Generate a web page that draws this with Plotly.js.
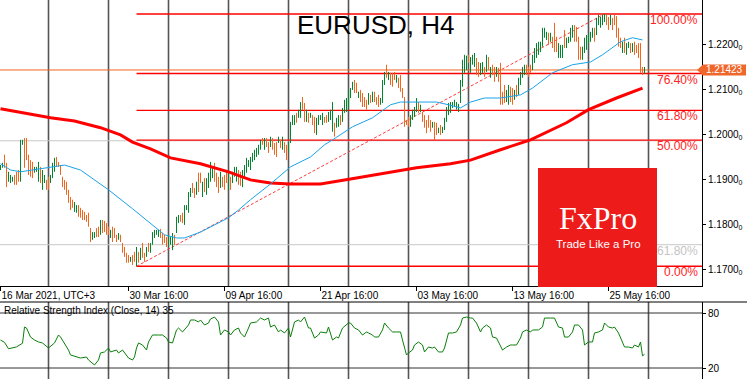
<!DOCTYPE html>
<html><head><meta charset="utf-8">
<script src="https://cdn.plot.ly/plotly-3.0.1.min.js"></script>
<style>html,body{margin:0;padding:0;background:#fff;overflow:hidden}#chart{width:747px;height:379px}</style>
</head><body><div id="chart"></div>
<script>
// ---- data (EURUSD H4, bar index 0 = 16 Mar 2021 00:00) ----
const dateTickIdx = [0, 64, 112, 160, 208, 256, 304];
const dateTickText = ['16 Mar 2021, UTC+3', '30 Mar 16:00', '09 Apr 16:00', '21 Apr 16:00', '03 May 16:00', '13 May 16:00', '25 May 16:00'];
const priceTicks = [1.17, 1.18, 1.19, 1.20, 1.21, 1.22];
const rsiTicks = [20, 80];

const barOpen = [
1.1923,1.1927,1.1950,1.1930,1.1897,1.1895,1.1897,1.1905,1.1912,1.1916,
1.1898,1.1979,1.1985,1.1985,1.1948,1.1938,1.1934,1.1917,1.1918,1.1898,
1.1923,1.1880,1.1894,1.1895,1.1901,1.1894,1.1906,1.1920,1.1945,1.1936,
1.1928,1.1902,1.1895,1.1890,1.1872,1.1856,1.1851,1.1831,1.1828,1.1838,
1.1833,1.1828,1.1824,1.1818,1.1820,1.1787,1.1767,1.1772,1.1788,1.1790,
1.1780,1.1805,1.1803,1.1798,1.1791,1.1772,1.1790,1.1788,1.1773,1.1767,
1.1774,1.1755,1.1746,1.1733,1.1728,1.1718,1.1727,1.1734,1.1712,1.1735,
1.1723,1.1754,1.1732,1.1730,1.1754,1.1740,1.1757,1.1772,1.1778,1.1774,
1.1786,1.1777,1.1773,1.1768,1.1752,1.1757,1.1746,1.1773,1.1784,1.1805,
1.1818,1.1821,1.1803,1.1833,1.1830,1.1863,1.1888,1.1876,1.1868,1.1909,
1.1911,1.1864,1.1898,1.1869,1.1884,1.1898,1.1905,1.1931,1.1910,1.1901,
1.1884,1.1902,1.1905,1.1916,1.1880,1.1902,1.1894,1.1908,1.1898,1.1916,
1.1912,1.1886,1.1905,1.1917,1.1929,1.1923,1.1940,1.1945,1.1951,1.1956,
1.1968,1.1988,1.1968,1.1988,1.1979,1.1974,1.1988,1.1976,1.1978,1.1982,
1.1984,1.1968,1.1979,1.1972,1.1961,1.1983,1.2023,1.2022,1.2044,1.2038,
1.2040,1.2078,1.2064,1.2030,1.2044,1.2038,1.2039,1.2034,1.2002,1.2023,
1.2033,1.2023,1.2036,1.2040,1.2030,1.2034,1.2010,1.2021,1.2017,1.2019,
1.2039,1.2030,1.2050,1.2052,1.2064,1.2083,1.2100,1.2116,1.2111,1.2082,
1.2095,1.2087,1.2079,1.2073,1.2068,1.2085,1.2074,1.2091,1.2080,1.2084,
1.2067,1.2073,1.2112,1.2150,1.2123,1.2133,1.2132,1.2136,1.2116,1.2122,
1.2127,1.2099,1.2078,1.2029,1.2035,1.2019,1.2034,1.2041,1.2052,1.2068,
1.2051,1.2046,1.2039,1.2028,1.2038,1.2028,1.2016,1.2023,1.2022,1.2004,
1.2017,1.2004,1.2012,1.2030,1.2045,1.2050,1.2060,1.2062,1.2057,1.2052,
1.2073,1.2110,1.2140,1.2146,1.2173,1.2140,1.2157,1.2152,1.2165,1.2156,
1.2134,1.2139,1.2146,1.2142,1.2168,1.2128,1.2151,1.2145,1.2130,1.2143,
1.2150,1.2090,1.2104,1.2074,1.2069,1.2101,1.2098,1.2079,1.2106,1.2091,
1.2112,1.2128,1.2134,1.2151,1.2146,1.2151,1.2145,1.2161,1.2172,1.2179,
1.2185,1.2198,1.2217,1.2211,1.2222,1.2207,1.2213,1.2240,1.2212,1.2172,
1.2172,1.2173,1.2227,1.2194,1.2204,1.2208,1.2217,1.2238,1.2234,1.2211,
1.2190,1.2168,1.2183,1.2190,1.2205,1.2208,1.2216,1.2232,1.2224,1.2245,
1.2239,1.2245,1.2252,1.2262,1.2257,1.2245,1.2255,1.2262,1.2258,1.2232,
1.2211,1.2183,1.2210,1.2179,1.2193,1.2199,1.2185,1.2202,1.2195,1.2198,
1.2196,1.2146,1.2137];
const barHigh = [
1.1931,1.1936,1.1954,1.1936,1.1916,1.1909,1.1905,1.1909,1.1916,1.1920,
1.1987,1.1987,1.1991,1.1991,1.1954,1.1942,1.1938,1.1927,1.1927,1.1938,
1.1927,1.1920,1.1909,1.1898,1.1905,1.1909,1.1936,1.1947,1.1949,1.1938,
1.1931,1.1905,1.1898,1.1894,1.1876,1.1860,1.1854,1.1849,1.1842,1.1842,
1.1836,1.1831,1.1827,1.1820,1.1825,1.1791,1.1782,1.1782,1.1791,1.1794,
1.1809,1.1809,1.1807,1.1802,1.1794,1.1787,1.1794,1.1791,1.1776,1.1780,
1.1776,1.1758,1.1749,1.1736,1.1731,1.1727,1.1731,1.1738,1.1749,1.1738,
1.1747,1.1758,1.1736,1.1749,1.1758,1.1758,1.1782,1.1787,1.1787,1.1787,
1.1789,1.1780,1.1776,1.1771,1.1776,1.1771,1.1780,1.1776,1.1816,1.1820,
1.1820,1.1825,1.1842,1.1842,1.1871,1.1880,1.1891,1.1880,1.1894,1.1914,
1.1914,1.1894,1.1902,1.1902,1.1914,1.1938,1.1925,1.1936,1.1914,1.1905,
1.1916,1.1905,1.1909,1.1920,1.1916,1.1905,1.1916,1.1927,1.1927,1.1920,
1.1916,1.1920,1.1931,1.1947,1.1942,1.1949,1.1958,1.1965,1.1969,1.1976,
1.1987,1.1991,1.1991,1.1991,1.1982,1.1994,1.1991,1.1980,1.1982,1.1994,
1.1987,1.1994,1.1982,1.1976,1.1982,1.2027,1.2042,1.2042,1.2047,1.2054,
1.2071,1.2082,1.2069,1.2054,1.2047,1.2047,1.2042,1.2038,1.2036,1.2042,
1.2042,1.2047,1.2038,1.2042,1.2049,1.2054,1.2071,1.2025,1.2036,1.2042,
1.2042,1.2058,1.2076,1.2080,1.2098,1.2102,1.2116,1.2120,1.2114,1.2094,
1.2098,1.2091,1.2082,1.2076,1.2091,1.2087,1.2094,1.2094,1.2082,1.2087,
1.2080,1.2120,1.2138,1.2154,1.2138,1.2136,1.2136,1.2138,1.2131,1.2125,
1.2131,1.2102,1.2082,1.2031,1.2038,1.2042,1.2054,1.2060,1.2080,1.2071,
1.2065,1.2049,1.2042,1.2031,1.2042,1.2031,1.2027,1.2027,1.2025,1.2014,
1.2020,1.2016,1.2036,1.2060,1.2069,1.2071,1.2071,1.2076,1.2071,1.2067,
1.2120,1.2165,1.2176,1.2174,1.2176,1.2171,1.2176,1.2180,1.2169,1.2160,
1.2158,1.2160,1.2149,1.2176,1.2171,1.2149,1.2154,1.2149,1.2149,1.2147,
1.2158,1.2094,1.2109,1.2098,1.2109,1.2105,1.2102,1.2098,1.2109,1.2125,
1.2138,1.2149,1.2154,1.2154,1.2149,1.2154,1.2176,1.2191,1.2202,1.2205,
1.2205,1.2236,1.2236,1.2227,1.2225,1.2225,1.2216,1.2247,1.2216,1.2202,
1.2198,1.2198,1.2231,1.2214,1.2216,1.2236,1.2242,1.2242,1.2238,1.2216,
1.2194,1.2194,1.2214,1.2220,1.2225,1.2227,1.2236,1.2236,1.2258,1.2265,
1.2260,1.2265,1.22667,1.2265,1.2260,1.2265,1.2258,1.2265,1.2262,1.2236,
1.2214,1.2205,1.2214,1.2202,1.2205,1.2202,1.2202,1.2205,1.2198,1.2202,
1.2202,1.2149,1.2149];
const barLow = [
1.1920,1.1925,1.1925,1.1882,1.1894,1.1891,1.1894,1.1887,1.1887,1.1894,
1.1894,1.1976,1.1925,1.1942,1.1909,1.1905,1.1902,1.1914,1.1916,1.1894,
1.1891,1.1876,1.1891,1.1876,1.1876,1.1891,1.1902,1.1916,1.1927,1.1927,
1.1909,1.1882,1.1876,1.1865,1.1847,1.1831,1.1836,1.1827,1.1825,1.1816,
1.1814,1.1809,1.1809,1.1805,1.1794,1.1760,1.1765,1.1769,1.1771,1.1771,
1.1776,1.1780,1.1782,1.1776,1.1776,1.1769,1.1760,1.1769,1.1760,1.1765,
1.1760,1.1736,1.1727,1.1714,1.1714,1.1716,1.1709,1.1716,1.1706,1.1714,
1.1720,1.1725,1.1716,1.1727,1.1738,1.1736,1.1754,1.1769,1.1776,1.1771,
1.1769,1.1754,1.1758,1.1749,1.1749,1.1754,1.1742,1.1754,1.1780,1.1802,
1.1805,1.1802,1.1798,1.1831,1.1825,1.1860,1.1869,1.1858,1.1865,1.1871,
1.1891,1.1860,1.1871,1.1865,1.1880,1.1894,1.1902,1.1894,1.1882,1.1869,
1.1880,1.1882,1.1876,1.1891,1.1876,1.1876,1.1891,1.1905,1.1894,1.1887,
1.1885,1.1882,1.1902,1.1914,1.1927,1.1920,1.1938,1.1942,1.1949,1.1954,
1.1965,1.1976,1.1965,1.1971,1.1958,1.1971,1.1965,1.1954,1.1949,1.1980,
1.1969,1.1965,1.1958,1.1942,1.1958,1.1980,1.2020,1.2020,1.2025,1.2036,
1.2036,1.2054,1.2027,1.2027,1.2025,1.2036,1.2020,1.2002,1.1998,1.2020,
1.2031,1.2020,1.2025,1.2025,1.2027,1.2031,1.2005,1.1994,1.2014,1.2016,
1.2020,1.2027,1.2047,1.2049,1.2060,1.2080,1.2098,1.2091,1.2091,1.2080,
1.2071,1.2060,1.2060,1.2054,1.2065,1.2069,1.2071,1.2071,1.2065,1.2060,
1.2065,1.2069,1.2109,1.2125,1.2120,1.2109,1.2105,1.2120,1.2114,1.2102,
1.2094,1.2080,1.2016,1.2020,1.2016,1.2016,1.2031,1.2038,1.2049,1.2047,
1.2049,1.2027,1.2014,1.2002,1.2014,1.2005,1.2014,1.1987,1.1998,1.2002,
1.1998,1.2002,1.2009,1.2027,1.2042,1.2047,1.2058,1.2060,1.2054,1.2049,
1.2069,1.2105,1.2136,1.2142,1.2158,1.2136,1.2154,1.2149,1.2131,1.2127,
1.2131,1.2136,1.2127,1.2138,1.2142,1.2125,1.2131,1.2116,1.2127,1.2116,
1.2065,1.2065,1.2069,1.2071,1.2065,1.2071,1.2065,1.2076,1.2082,1.2087,
1.2109,1.2125,1.2131,1.2131,1.2127,1.2136,1.2142,1.2158,1.2169,1.2176,
1.2182,1.2194,1.2214,1.2209,1.2198,1.2205,1.2191,1.2182,1.2182,1.2169,
1.2169,1.2169,1.2191,1.2191,1.2202,1.2205,1.2214,1.2205,1.2205,1.2165,
1.2165,1.2165,1.2180,1.2187,1.2202,1.2205,1.2214,1.2205,1.2220,1.2242,
1.2236,1.2242,1.2249,1.2242,1.2231,1.2242,1.2231,1.2242,1.2214,1.2194,
1.2191,1.2180,1.2180,1.2176,1.2191,1.2180,1.2182,1.2176,1.2180,1.2169,
1.2136,1.2131,1.2134];
const barClose = [
1.1929,1.1933,1.1930,1.1890,1.1912,1.1905,1.1903,1.1890,1.1891,1.1897,
1.1980,1.1985,1.1930,1.1946,1.1913,1.1909,1.1906,1.1924,1.1925,1.1934,
1.1895,1.1916,1.1905,1.1879,1.1880,1.1906,1.1932,1.1943,1.1930,1.1929,
1.1912,1.1885,1.1879,1.1868,1.1850,1.1835,1.1839,1.1845,1.1839,1.1820,
1.1817,1.1812,1.1812,1.1808,1.1798,1.1764,1.1779,1.1779,1.1774,1.1775,
1.1805,1.1784,1.1786,1.1780,1.1779,1.1784,1.1764,1.1773,1.1763,1.1777,
1.1763,1.1739,1.1730,1.1717,1.1717,1.1725,1.1712,1.1719,1.1745,1.1718,
1.1743,1.1729,1.1720,1.1745,1.1742,1.1755,1.1778,1.1784,1.1785,1.1784,
1.1772,1.1758,1.1761,1.1752,1.1772,1.1768,1.1776,1.1757,1.1812,1.1817,
1.1808,1.1806,1.1838,1.1840,1.1866,1.1877,1.1872,1.1861,1.1890,1.1875,
1.1894,1.1890,1.1875,1.1898,1.1910,1.1933,1.1922,1.1898,1.1886,1.1873,
1.1912,1.1885,1.1880,1.1894,1.1912,1.1880,1.1913,1.1924,1.1923,1.1891,
1.1889,1.1916,1.1928,1.1943,1.1940,1.1946,1.1955,1.1962,1.1966,1.1973,
1.1984,1.1978,1.1988,1.1974,1.1961,1.1991,1.1968,1.1957,1.1953,1.1992,
1.1972,1.1991,1.1961,1.1946,1.1979,1.2022,1.2039,1.2040,1.2028,1.2051,
1.2067,1.2058,1.2031,1.2050,1.2028,1.2045,1.2023,1.2006,1.2032,1.2039,
1.2040,1.2044,1.2027,1.2028,1.2046,1.2051,1.2066,1.1998,1.2033,1.2039,
1.2023,1.2055,1.2073,1.2077,1.2094,1.2099,1.2113,1.2094,1.2094,1.2092,
1.2074,1.2063,1.2063,1.2057,1.2088,1.2072,1.2091,1.2074,1.2068,1.2063,
1.2078,1.2115,1.2135,1.2128,1.2135,1.2112,1.2108,1.2123,1.2129,1.2105,
1.2098,1.2083,1.2022,1.2022,1.2019,1.2039,1.2051,1.2057,1.2077,1.2050,
1.2063,1.2030,1.2017,1.2005,1.2017,1.2008,1.2025,1.1991,1.2001,1.2012,
1.2001,1.2014,1.2033,1.2056,1.2066,1.2068,1.2069,1.2073,1.2068,1.2064,
1.2116,1.2160,1.2172,1.2170,1.2161,1.2167,1.2173,1.2177,1.2135,1.2131,
1.2155,1.2157,1.2130,1.2172,1.2145,1.2146,1.2134,1.2120,1.2146,1.2120,
1.2072,1.2068,1.2073,1.2095,1.2105,1.2075,1.2069,1.2095,1.2085,1.2121,
1.2135,1.2146,1.2151,1.2134,1.2130,1.2139,1.2173,1.2188,1.2199,1.2202,
1.2202,1.2232,1.2233,1.2225,1.2201,1.2223,1.2194,1.2187,1.2186,1.2199,
1.2195,1.2195,1.2195,1.2211,1.2214,1.2233,1.2239,1.2209,1.2209,1.2170,
1.2168,1.2190,1.2210,1.2217,1.2222,1.2224,1.2233,1.2209,1.2254,1.2262,
1.2257,1.2262,1.2264,1.2245,1.2234,1.2262,1.2234,1.2245,1.2218,1.2198,
1.2194,1.2202,1.2183,1.2199,1.2203,1.2183,1.2200,1.2179,1.2183,1.2172,
1.2140,1.2136,1.21423];

// moving averages, read at sample bars
const maFastIdx = [0,5,10,16,24,32,40,54,66,76,82,88,92,100,114,119,125,135,145,155,162,166,176,186,195,200,208,218,224,230,235,242,250,260,266,276,286,295,301,310,316,321];
const maFastVal = [1.1934,1.1920,1.1916,1.1920,1.1927,1.1931,1.1920,1.1876,1.1834,1.1798,1.1776,1.1769,1.1769,1.1782,1.1814,1.1831,1.1854,1.1889,1.1927,1.1949,1.1976,1.1987,1.2016,1.2036,1.2065,1.2071,1.2071,1.2071,1.2065,1.2058,1.2071,1.2080,1.2080,1.2087,1.2102,1.2136,1.2154,1.2160,1.2176,1.2205,1.2214,1.2209];
const maSlowIdx = [0,25,37,50,60,66,75,85,100,114,125,135,145,160,175,195,208,225,235,250,265,283,294,308,321];
const maSlowVal = [1.2056,1.2036,1.2029,1.2014,1.1998,1.1982,1.1967,1.1947,1.1934,1.1916,1.1898,1.1891,1.1889,1.1889,1.1900,1.1916,1.1925,1.1934,1.1942,1.1965,1.1987,1.2025,1.2054,1.2080,1.2102];

// RSI(14), read at sample bars
const rsiIdx = [
0,2,4,6,8,11,12,13,14,15,
17,19,21,24,27,29,30,32,34,35,
38,40,43,44,47,49,50,52,54,55,
58,59,61,64,66,67,68,69,71,73,
74,76,79,81,83,84,86,88,89,91,
94,95,97,99,100,102,104,105,107,109,
110,112,114,115,117,119,120,122,124,125,
128,130,132,134,135,137,139,140,142,144,
145,147,149,150,152,154,155,157,159,160,
163,164,166,168,169,171,174,175,177,179,
181,183,184,186,187,189,191,192,194,196,
198,200,201,203,204,206,207,209,211,212,
214,216,217,219,221,222,224,226,228,230,
231,233,235,236,238,240,241,243,245,246,
248,250,251,253,255,256,258,260,261,263,
265,266,269,271,272,275,277,279,281,282,
284,286,287,289,291,292,294,296,297,299,
301,302,304,306,307,309,311,312,314,316,
317,319,320,321,322];
const rsiVal = [
50.5,48,41,42,43,47,64.7,63.6,58.2,53.8,
50.5,48.4,47.3,41.8,47.3,56,53.8,47.3,39.6,34.2,
32,30.9,32,28.7,23.3,28.7,36.4,37.5,41.8,37.5,
39.6,36.4,39.6,30.9,28.7,32,41.8,47.3,45.1,39.6,
48.4,56,56,56,52.7,48.4,47.3,61.5,63.6,59.3,
66.9,72.4,72.4,70.2,72.4,66.9,69.1,73.5,75.6,70.2,
56,61.5,59.3,56,61.5,63.6,58.2,53.8,63.6,69.1,
70.2,74.5,72.4,74.5,64.7,66.9,59.3,61.5,58.2,63.6,
53.8,70.2,72.4,70.2,75.6,63.6,63.6,52.7,56,59.3,
58.2,64.7,50.5,53.8,52.7,63.6,69.1,69.1,63.6,61.5,
56,59.3,58.2,56,53.8,53.8,61.5,69.1,63.6,59.3,
59.3,59.3,50.5,34.2,36.4,39.6,45.1,48.4,45.1,37.5,
42.9,41.8,42.9,37.5,37.5,41.8,58.2,58.2,59.3,66.9,
74.5,75.6,74.5,74.5,69.1,59.3,63.6,66.9,63.6,53.8,
52.7,42.9,39.6,42.9,45.1,45.1,45.1,52.7,59.3,61.5,
59.3,61.5,61.5,64.7,74.5,74.5,74.5,64.7,63.6,53.8,
53.8,59.3,66.9,66.9,61.5,45.1,48.4,48.4,58.2,59.3,
61.5,69.1,64.7,63.6,64.7,58.2,47.3,42.9,42.9,41.8,
45.1,42.9,48.4,33.2,35];

// Fibonacci drawing (low at bar 68, high at bar 302) and extra grey levels
const fibLow = 1.1706, fibHigh = 1.22667, fibStartIdx = 68, fibEndIdx = 302;
const fibRatios = [0, 0.5, 0.618, 0.764, 1];
const fibLabels = ['0.00%', '50.00%', '61.80%', '76.40%', '100.00%'];
const greyLevels = [1.1985, 1.1754];
const greyLabel = '61.80%';

// ---- build ----
const W = 747, H = 379, PW = 702;
const xIdx = barOpen.map((_, i) => i);
const xRange = [-0.25, 350.75];
const GREEN = '#00862d', ORANGE = '#f2651c';
const lastClose = barClose[barClose.length - 1];
const lastRsi = rsiVal[rsiVal.length - 1];
const py = p => 1 - p / H;      // pixel-from-top -> paper y
const px = p => p / PW;         // pixel-from-left -> paper x

const traces = [
  {type: 'ohlc', x: xIdx, open: barOpen, high: barHigh, low: barLow, close: barClose,
   xaxis: 'x', yaxis: 'y', tickwidth: 0.2, hoverinfo: 'skip',
   increasing: {line: {color: GREEN, width: 1}}, decreasing: {line: {color: ORANGE, width: 1}}},
  {type: 'scatter', mode: 'lines', x: maSlowIdx, y: maSlowVal, xaxis: 'x', yaxis: 'y',
   line: {color: '#ff0000', width: 3}, hoverinfo: 'skip'},
  {type: 'scatter', mode: 'lines', x: maFastIdx, y: maFastVal, xaxis: 'x', yaxis: 'y',
   line: {color: '#1aa3ea', width: 1}, hoverinfo: 'skip'},
  {type: 'scatter', mode: 'lines', x: rsiIdx, y: rsiVal, xaxis: 'x', yaxis: 'y2',
   line: {color: '#0b800b', width: 1}, hoverinfo: 'skip'}
];

const shapes = [];
for (let g = 24; g <= 330; g += 30) {
  ['y domain', 'y2 domain'].forEach(r => shapes.push({type: 'line', xref: 'x', yref: r, x0: g, x1: g, y0: 0, y1: 1,
    line: {color: '#555555', width: 1.6}, layer: 'below'}));
}
greyLevels.forEach(v => shapes.push({type: 'line', xref: 'x domain', yref: 'y', x0: 0, x1: 1, y0: v, y1: v,
  line: {color: '#c8c8c8', width: 1}, layer: 'below'}));
fibRatios.forEach(r => {
  const v = fibLow + r * (fibHigh - fibLow);
  shapes.push({type: 'line', xref: 'x', yref: 'y', x0: fibStartIdx, x1: xRange[1], y0: v, y1: v,
    line: {color: '#ff0000', width: 1.4}, layer: 'below'});
});
shapes.push({type: 'line', xref: 'x', yref: 'y', x0: fibStartIdx, y0: fibLow, x1: fibEndIdx, y1: fibHigh,
  line: {color: '#ff3b3b', width: 1, dash: '3px,2px'}, layer: 'below'});
shapes.push({type: 'line', xref: 'x domain', yref: 'y', x0: 0, x1: 1, y0: lastClose, y1: lastClose,
  line: {color: '#f26522', width: 1}, layer: 'below'});
rsiTicks.forEach(v => shapes.push({type: 'line', xref: 'x domain', yref: 'y2', x0: 0, x1: 1, y0: v, y1: v,
  line: {color: '#333333', width: 1}, layer: 'below'}));
shapes.push({type: 'line', xref: 'paper', yref: 'y2 domain', x0: 0, x1: W / PW, y0: 1, y1: 1,
  line: {color: '#000', width: 1}});
// FxPro box
shapes.push({type: 'rect', xref: 'paper', yref: 'paper', x0: px(538), x1: px(657), y0: py(287), y1: py(168),
  fillcolor: '#ee1b1b', line: {width: 0}, layer: 'above'});
// current price tag
const dh = 5.5 / 4500;
shapes.push({type: 'path', xref: 'paper', yref: 'y',
  path: `M ${px(697)},${lastClose} L ${px(703)},${lastClose + dh} L ${px(746)},${lastClose + dh} L ${px(746)},${lastClose - dh} L ${px(703)},${lastClose - dh} Z`,
  fillcolor: '#f0672c', line: {width: 0}});

const annotations = [
  {text: 'EURUSD, H4', xref: 'paper', yref: 'paper', x: px(375), y: py(25), xanchor: 'center', yanchor: 'middle', showarrow: false,
   font: {size: 26, color: '#000', family: '"Liberation Sans", Arial, sans-serif'}},
  {text: 'Relative Strength Index (Close, 14) ' + Math.round(lastRsi), xref: 'paper', yref: 'paper', x: px(2), y: py(310),
   xanchor: 'left', yanchor: 'middle', showarrow: false, font: {size: 10, color: '#000'}},
  {text: 'FxPro', xref: 'paper', yref: 'paper', x: px(598), y: py(218), xanchor: 'center', yanchor: 'middle', showarrow: false,
   font: {size: 32, color: '#fff', family: '"Liberation Serif", "Times New Roman", serif'}},
  {text: 'Trade Like a Pro', xref: 'paper', yref: 'paper', x: px(598), y: py(244), xanchor: 'center', yanchor: 'middle', showarrow: false,
   font: {size: 11.5, color: '#fff'}},
  {text: lastClose.toFixed(5), xref: 'paper', yref: 'y', x: px(724), y: lastClose, xanchor: 'center', yanchor: 'middle', showarrow: false,
   font: {size: 10, color: '#fff'}}
];
fibRatios.forEach((r, k) => {
  const v = fibLow + r * (fibHigh - fibLow);
  annotations.push({text: fibLabels[k], xref: 'paper', yref: 'y', x: px(700), y: v, xanchor: 'right', yanchor: 'top',
    yshift: 3, showarrow: false, font: {size: 12, color: '#ff2222'}});
});
annotations.push({text: greyLabel, xref: 'paper', yref: 'y', x: px(700), y: greyLevels[1], xanchor: 'right', yanchor: 'top',
  yshift: 3, showarrow: false, font: {size: 12, color: '#c4c4c4'}});

const layout = {
  width: W, height: H, margin: {l: 0, r: W - PW, t: 0, b: 0},
  paper_bgcolor: '#fff', plot_bgcolor: '#fff', showlegend: false, dragmode: false,
  font: {family: '"Liberation Sans", Arial, sans-serif', size: 10, color: '#000'},
  xaxis: {domain: [0, 1], range: xRange, anchor: 'y', tickvals: dateTickIdx, ticktext: dateTickText,
    ticks: 'outside', ticklen: 4, tickcolor: '#000', showline: true, linecolor: '#000', linewidth: 1,
    showgrid: false, zeroline: false, ticklabelposition: 'outside right', rangeslider: {visible: false},
    tickfont: {size: 10, color: '#000'}},
  yaxis: {domain: [1 - 286 / H, 1], range: [1.166224, 1.22978], side: 'right', anchor: 'x',
    tickvals: priceTicks, ticktext: priceTicks.map(v => v.toFixed(4) + '<sub>0</sub>'),
    ticks: 'outside', ticklen: 3, tickcolor: '#000', showline: true, linecolor: '#000', linewidth: 1,
    showgrid: false, zeroline: false, tickfont: {size: 10, color: '#000'}},
  yaxis2: {domain: [0, 77 / H], range: [8, 92], side: 'right', anchor: 'x',
    tickvals: rsiTicks, ticktext: rsiTicks.map(String), ticks: 'outside', ticklen: 3, tickcolor: '#000',
    showline: true, linecolor: '#000', linewidth: 1, showgrid: false, zeroline: false,
    tickfont: {size: 10, color: '#000'}},
  shapes: shapes, annotations: annotations
};
Plotly.newPlot('chart', traces, layout, {staticPlot: true, displayModeBar: false});
</script></body></html>
